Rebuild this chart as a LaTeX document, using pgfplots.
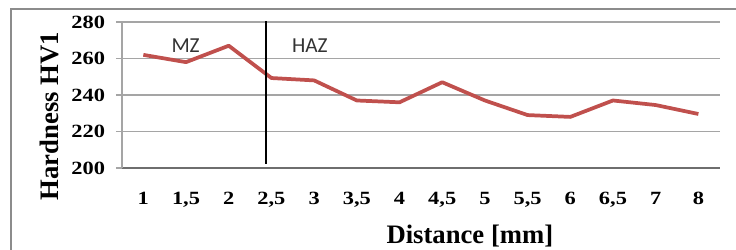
\documentclass[border=0pt]{standalone}
\usepackage{fontspec}
\setmainfont{Liberation Serif}
\newfontfamily\tickfont{Liberation Serif}[FakeStretch=1.2]
\newfontfamily\labfont{Carlito}
\usepackage{pgfplots}
\pgfplotsset{compat=1.18}
\definecolor{exred}{RGB}{192,80,77}
\definecolor{gridgray}{RGB}{165,165,165}
\definecolor{axgray}{RGB}{110,110,110}
\definecolor{framegray}{RGB}{140,140,140}
\begin{document}
\begin{tikzpicture}
\useasboundingbox (0,0) rectangle (552pt,-187.5pt);
\draw[framegray, line width=1.3pt] (8.25pt,-220pt) -- (8.25pt,-6.75pt) -- (580pt,-6.75pt);
\begin{axis}[
  at={(91.5pt,-126pt)}, anchor=south west,
  scale only axis, width=448.3pt, height=109.5pt,
  xmin=-0.5, xmax=13.5, ymin=200, ymax=280,
  xtick={0,...,13},
  xticklabels={1,{1,5},2,{2,5},3,{3,5},4,{4,5},5,{5,5},6,{6,5},7,8},
  ytick={200,220,...,280},
  /pgf/number format/assume math mode=true,
  ymajorgrids, grid style={gridgray, line width=0.8pt},
  axis x line*=bottom, axis y line*=left,
  x axis line style={axgray, line width=1.1pt, -},
  y axis line style={gridgray, line width=0.8pt, -},
  xtick style={draw=none},
  ytick style={gridgray, line width=0.8pt},
  tick align=outside, major tick length=4.5pt,
  ticklabel style={font=\tickfont\bfseries\fontsize{14pt}{16pt}\selectfont, inner sep=0pt},
  yticklabel style={anchor=east, xshift=-8pt},
  xticklabel style={anchor=north, yshift=-13.5pt},
  xlabel={Distance [mm]}, ylabel={Hardness HV1},
  label style={font=\bfseries\fontsize{20pt}{22pt}\selectfont},
  xlabel style={at={(axis description cs:0.582,-0.466)}, anchor=center},
  ylabel style={at={(axis description cs:-0.122,0.356)}, anchor=center, rotate=0},
  clip=false,
]
\addplot[exred, line width=2.8pt, line join=round] coordinates {
(0,262) (1,258) (2,267) (3,249.3) (4,248) (5,237) (6,236) (7,247) (8,237) (9,229) (10,228) (11,237) (12,234.5) (13,229.6)
};
\addplot[black, line width=1.4pt] coordinates {(2.88,280.5) (2.88,202)};
\node[font=\labfont\fontsize{16pt}{18pt}\selectfont, text=black!80] at (axis cs:0.99,266.9) {MZ};
\node[font=\labfont\fontsize{16pt}{18pt}\selectfont, text=black!80] at (axis cs:3.9,266.9) {HAZ};
\end{axis}
\end{tikzpicture}
\end{document}
